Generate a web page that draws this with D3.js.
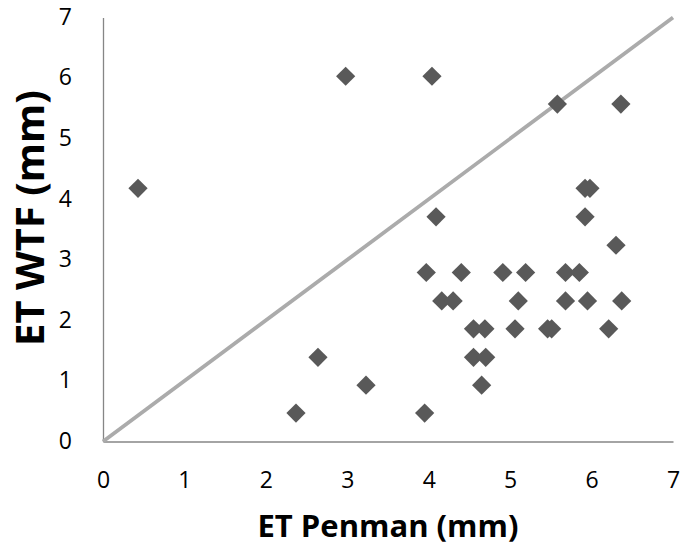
<!DOCTYPE html>
<html>
<head>
<meta charset="utf-8">
<script src="https://cdn.jsdelivr.net/npm/d3@7"></script>
<style>
  html, body { margin: 0; padding: 0; background: #fff; }
  svg { display: block; font-family: "Open Sans", sans-serif; }
</style>
</head>
<body>
<svg id="chart" width="681" height="545"></svg>
<script>
// ET Penman (x) vs ET WTF (y), mm
const etPenman = [
  0.43, 2.98, 4.04, 5.58, 6.36, 5.92, 5.98, 4.09, 5.92, 6.30,
  2.64, 3.23, 2.37,
  3.97, 4.40, 4.91, 5.19, 5.68, 5.85,
  4.16, 4.30, 5.10, 5.68, 5.95, 6.37,
  4.55, 4.69, 5.06, 5.46, 5.51, 6.21,
  4.55, 4.70, 4.65, 3.95
];
const etWtf = [
  4.18, 6.03, 6.03, 5.57, 5.57, 4.18, 4.18, 3.71, 3.71, 3.24,
  1.39, 0.93, 0.47,
  2.79, 2.79, 2.79, 2.79, 2.79, 2.79,
  2.32, 2.32, 2.32, 2.32, 2.32, 2.32,
  1.86, 1.86, 1.86, 1.86, 1.86, 1.86,
  1.39, 1.39, 0.93, 0.47
];
const xTicks = [0, 1, 2, 3, 4, 5, 6, 7];
const yTicks = [0, 1, 2, 3, 4, 5, 6, 7];
const oneToOne = [0, 7];

const margin = { top: 17.5, right: 8, bottom: 103.5, left: 103 };
const W = 681, H = 545;

const svg = d3.select("#chart");

const x = d3.scaleLinear().domain([0, 7]).range([margin.left, W - margin.right]);
const y = d3.scaleLinear().domain([0, 7]).range([H - margin.bottom, margin.top]);

const points = etPenman.map((v, i) => ({ x: v, y: etWtf[i] }));

// axes (no tick marks, just the line and labels)
const xAxis = svg.append("g")
  .attr("transform", `translate(0,${y(0)})`)
  .call(d3.axisBottom(x).tickValues(xTicks).tickSize(0).tickPadding(30).tickFormat(d3.format("d")))
  .attr("font-family", null)
  .attr("font-size", 23);
xAxis.select(".domain").attr("stroke", "#868686").attr("stroke-width", 1.3);
xAxis.selectAll("text").attr("fill", "#000");

const yAxis = svg.append("g")
  .attr("transform", `translate(${x(0)},0)`)
  .call(d3.axisLeft(y).tickValues(yTicks).tickSize(0).tickPadding(31).tickFormat(d3.format("d")))
  .attr("font-family", null)
  .attr("font-size", 23);
yAxis.select(".domain").attr("stroke", "#868686").attr("stroke-width", 1.3);
yAxis.selectAll("text").attr("fill", "#000").attr("dy", "0.3em");

// 1:1 line
svg.append("line")
  .attr("x1", x(oneToOne[0])).attr("y1", y(oneToOne[0]))
  .attr("x2", x(oneToOne[1])).attr("y2", y(oneToOne[1]))
  .attr("stroke", "#ababab")
  .attr("stroke-width", 3.8);

// diamond markers
const diamond = d3.symbol(d3.symbolSquare, 185);
svg.append("g")
  .attr("fill", "#595959")
  .selectAll("path")
  .data(points)
  .join("path")
  .attr("d", diamond)
  .attr("transform", d => `translate(${x(d.x)},${y(d.y)}) rotate(45)`);

// axis titles
svg.append("text")
  .attr("x", (x(0) + x(7)) / 2)
  .attr("y", 537)
  .attr("text-anchor", "middle")
  .attr("font-size", 31)
  .attr("font-weight", "bold")
  .text("ET Penman (mm)");

svg.append("text")
  .attr("transform", `translate(44,218) rotate(-90)`)
  .attr("text-anchor", "middle")
  .attr("font-size", 40)
  .attr("font-weight", "bold")
  .text("ET WTF (mm)");
</script>
</body>
</html>
